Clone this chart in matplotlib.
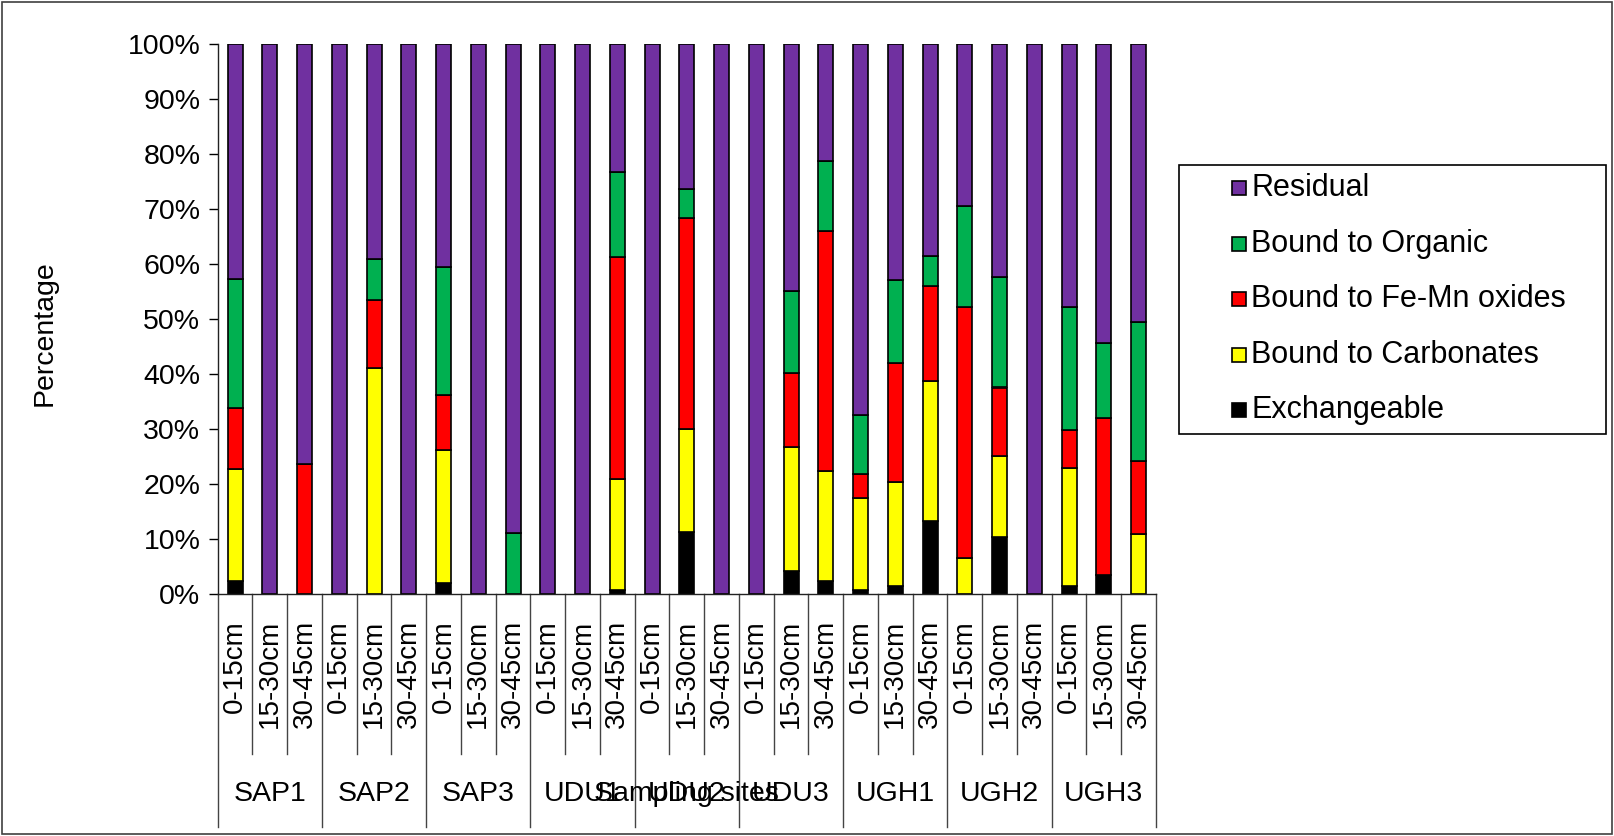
import matplotlib
matplotlib.use('Agg')
import matplotlib.pyplot as plt
import matplotlib.transforms as mtransforms
from matplotlib.patches import Rectangle
import numpy as np

plt.rcParams['font.family'] = ['Liberation Sans', 'DejaVu Sans']

sites = ['SAP1', 'SAP2', 'SAP3', 'UDU1', 'UDU2', 'UDU3', 'UGH1', 'UGH2', 'UGH3']
depths = ['0-15cm', '15-30cm', '30-45cm']

# fractions in %, one value per site/depth (site-major order)
exchangeable = [2.5, 0, 0, 0, 0, 0, 2.0, 0, 0,
                0, 0, 0.7, 0, 11.3, 0, 0, 4.2, 2.4,
                0.8, 1.5, 13.3, 0, 10.5, 0, 1.5, 3.6, 0]
carbonates = [20.3, 0, 0, 0, 41.1, 0, 24.2, 0, 0,
              0, 0, 20.2, 0, 18.8, 0, 0, 22.6, 20.1,
              16.7, 19.0, 25.4, 6.6, 14.6, 0, 21.5, 0, 10.9]
fe_mn = [11.0, 0, 23.6, 0, 12.5, 0, 10.1, 0, 0,
         0, 0, 40.4, 0, 38.3, 0, 0, 13.5, 43.5,
         4.4, 21.5, 17.4, 45.7, 12.5, 0, 6.9, 28.4, 13.3]
organic = [23.6, 0, 0, 0, 7.3, 0, 23.2, 0, 11.2,
           0, 0, 15.5, 0, 5.2, 0, 0, 14.8, 12.8,
           10.7, 15.2, 5.5, 18.3, 20.1, 0, 22.3, 13.7, 25.3]
residual = [42.6, 100, 76.4, 100, 39.1, 100, 40.5, 100, 88.8,
            100, 100, 23.2, 100, 26.4, 100, 100, 44.9, 21.2,
            67.4, 42.8, 38.4, 29.4, 42.3, 100, 47.8, 54.3, 50.5]

series = [('Exchangeable', exchangeable, '#000000'),
          ('Bound to Carbonates', carbonates, '#FFFF00'),
          ('Bound to Fe-Mn oxides', fe_mn, '#FF0000'),
          ('Bound to Organic', organic, '#00B050'),
          ('Residual', residual, '#7030A0')]

W, H = 1614, 836
fig = plt.figure(figsize=(W / 100, H / 100), dpi=100)
ax = fig.add_axes([217.7 / W, 1 - 594.3 / H, (1156 - 217.7) / W, 550 / H])

n = len(sites) * len(depths)
x = np.arange(n) + 0.5
bottom = np.zeros(n)
for name, vals, col in series:
    v = np.array(vals, dtype=float)
    ax.bar(x, v, width=0.43, bottom=bottom, color=col, edgecolor='black', linewidth=1.2)
    bottom += v

ax.set_xlim(0, n)
ax.set_ylim(0, 100)
ax.set_yticks(np.arange(0, 101, 10))
ax.set_yticklabels([f'{t}%' for t in range(0, 101, 10)])
ax.tick_params(axis='y', direction='out', length=6.5, width=1, labelsize=20.5, pad=6)
ax.set_xticks([])
for s in ['top', 'right']:
    ax.spines[s].set_visible(False)
for s in ['left', 'bottom']:
    ax.spines[s].set_linewidth(1)
    ax.spines[s].set_color('#222222')

# multi-level category axis
trans = mtransforms.blended_transform_factory(ax.transData, ax.transAxes)
for i in range(n + 1):
    low = -0.423 if i % 3 == 0 else -0.29
    ax.plot([i, i], [0, low], color='#444444', lw=1, transform=trans, clip_on=False)
for i in range(n):
    ax.text(x[i], -0.047, depths[i % 3], rotation=90, ha='center', va='top',
            fontsize=20, transform=trans)
for g, site in enumerate(sites):
    ax.text(g * 3 + 1.5, -0.363, site, ha='center', va='center', fontsize=20.5, transform=trans)
ax.text(n / 2, -0.363, 'Sampling sites', ha='center', va='center', fontsize=20.5, transform=trans)

fig.text(45 / W, 1 - 333 / H, 'Percentage', rotation=90, ha='center', va='center', fontsize=20.5)

# legend box
lx0, ly0, lx1, ly1 = 1179, 165, 1606, 434
fig.add_artist(Rectangle((lx0 / W, 1 - ly1 / H), (lx1 - lx0) / W, (ly1 - ly0) / H,
                         transform=fig.transFigure, fill=False, ec='black', lw=1.2))
for k, (name, vals, col) in enumerate(series[::-1]):
    yc = 188 + k * 55.6
    fig.add_artist(Rectangle((1232 / W, 1 - (yc + 7) / H), 14 / W, 14 / H,
                             transform=fig.transFigure, fc=col, ec='black', lw=1.2))
    fig.text(1251 / W, 1 - yc / H, name, ha='left', va='center', fontsize=22)

# outer frame
fig.add_artist(Rectangle((2 / W, 2 / H), (W - 4) / W, (H - 4) / H,
                         transform=fig.transFigure, fill=False, ec='#404040', lw=1.2))

fig.savefig('out.png', dpi=100)
